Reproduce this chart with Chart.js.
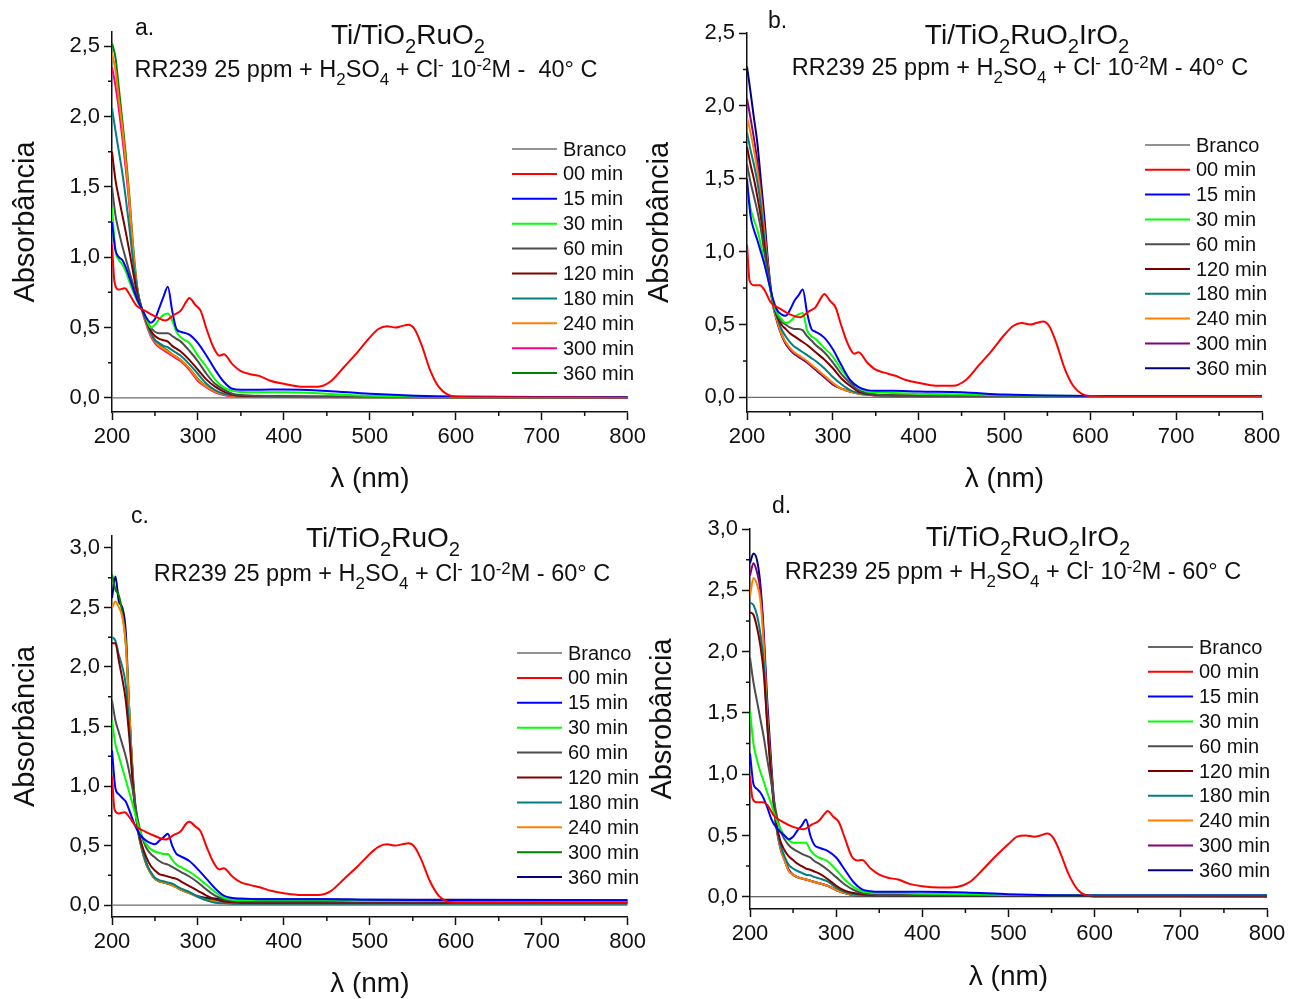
<!DOCTYPE html>
<html>
<head>
<meta charset="utf-8">
<script src="https://cdn.jsdelivr.net/npm/chart.js@4.4.1/dist/chart.umd.min.js"></script>
<style>
  body { margin: 0; background: #fff; width: 1300px; height: 999px; position: relative; overflow: hidden;
         font-family: 'Liberation Sans', Arial, sans-serif; color: #111; }
  .panel { position: absolute; }
  .txt { position: absolute; white-space: nowrap; line-height: 1; transform: translate(-50%, -50%); }
  .tag { position: absolute; font-size: 23px; line-height: 1; transform: translateY(-50%); }
  .head { font-size: 28px; }
  .cond { font-size: 23.5px; }
  sub, sup { line-height: 0; font-size: 0.72em; }
  sub { vertical-align: -0.45em; }
  sup { vertical-align: 0.45em; }
</style>
</head>
<body>

<div class="panel" style="left:0;top:0;width:650px;height:500px"><canvas id="chartA"></canvas></div>
<div class="panel" style="left:634px;top:0;width:666px;height:500px"><canvas id="chartB"></canvas></div>
<div class="panel" style="left:0;top:500px;width:650px;height:499px"><canvas id="chartC"></canvas></div>
<div class="panel" style="left:637px;top:500px;width:663px;height:499px"><canvas id="chartD"></canvas></div>

<div class="tag" style="left:135px;top:27px">a.</div>
<div class="txt head" style="left:408px;top:35px">Ti/TiO<sub>2</sub>RuO<sub>2</sub></div>
<div class="txt cond" style="left:366px;top:70px">RR239 25 ppm + H<sub>2</sub>SO<sub>4</sub> + Cl<sup>-</sup> 10<sup>-2</sup>M -&nbsp; 40° C</div>

<div class="tag" style="left:768px;top:20px">b.</div>
<div class="txt head" style="left:1027px;top:35px">Ti/TiO<sub>2</sub>RuO<sub>2</sub>IrO<sub>2</sub></div>
<div class="txt cond" style="left:1020px;top:68px">RR239 25 ppm + H<sub>2</sub>SO<sub>4</sub> + Cl<sup>-</sup> 10<sup>-2</sup>M - 40° C</div>

<div class="tag" style="left:131px;top:515px">c.</div>
<div class="txt head" style="left:383px;top:538px">Ti/TiO<sub>2</sub>RuO<sub>2</sub></div>
<div class="txt cond" style="left:382px;top:574px">RR239 25 ppm + H<sub>2</sub>SO<sub>4</sub> + Cl<sup>-</sup> 10<sup>-2</sup>M - 60° C</div>

<div class="tag" style="left:772px;top:505px">d.</div>
<div class="txt head" style="left:1028px;top:537px">Ti/TiO<sub>2</sub>RuO<sub>2</sub>IrO<sub>2</sub></div>
<div class="txt cond" style="left:1013px;top:572px">RR239 25 ppm + H<sub>2</sub>SO<sub>4</sub> + Cl<sup>-</sup> 10<sup>-2</sup>M - 60° C</div>

<script>
// wavelength grids (nm)
const wl = [200,204,208,212,216,220,225,230,235,240,245,250,255,260,265,270,275,280,290,300,310,320,330,340,350,370,400,450,500,600,800];
const wlRed = [200,203,208,215,220,228,238,250,262,272,280,287,290,297,303,310,318,325,330,340,350,360,372,385,400,420,440,455,470,485,500,510,520,530,537,545,552,560,570,580,590,600,650,800];
const wlBranco = [200, 800];
const branco = [0, 0];

const seriesLabels = ['Branco', '00 min', '15 min', '30 min', '60 min', '120 min', '180 min', '240 min', '300 min', '360 min'];
const xTicks = [200, 300, 400, 500, 600, 700, 800];
const yTicks25 = [0, 0.5, 1, 1.5, 2, 2.5];
const yTicks30 = [0, 0.5, 1, 1.5, 2, 2.5, 3];

// a. Ti/TiO2RuO2, 40 C
const a00 = [1.09,0.82,0.77,0.78,0.74,0.66,0.62,0.58,0.55,0.59,0.62,0.69,0.71,0.66,0.62,0.49,0.36,0.30,0.31,0.24,0.19,0.17,0.155,0.12,0.10,0.08,0.08,0.12,0.22,0.32,0.43,0.49,0.51,0.50,0.51,0.52,0.49,0.38,0.20,0.08,0.025,0.008,0.004,0.002];
const a15 = [1.25,1.05,1.00,0.98,0.93,0.86,0.77,0.69,0.63,0.57,0.535,0.56,0.64,0.72,0.79,0.62,0.49,0.47,0.45,0.39,0.30,0.20,0.115,0.065,0.058,0.058,0.06,0.05,0.03,0.01,0.005];
const a30 = [1.35,1.05,0.98,0.95,0.90,0.83,0.75,0.68,0.63,0.56,0.50,0.52,0.56,0.59,0.60,0.55,0.47,0.43,0.39,0.30,0.22,0.13,0.075,0.05,0.042,0.04,0.04,0.03,0.015,0.005,0.003];
const a60 = [1.50,1.30,1.18,1.08,0.99,0.90,0.80,0.70,0.63,0.56,0.50,0.47,0.46,0.46,0.46,0.44,0.42,0.40,0.335,0.26,0.17,0.10,0.06,0.03,0.02,0.015,0.012,0.01,0.008,0.005,0.003];
const a120 = [1.75,1.55,1.42,1.30,1.18,1.05,0.88,0.72,0.63,0.55,0.48,0.44,0.42,0.41,0.40,0.37,0.35,0.33,0.27,0.20,0.13,0.08,0.045,0.025,0.015,0.012,0.01,0.008,0.006,0.004,0.003];
const a180 = [2.06,1.90,1.75,1.60,1.42,1.22,0.95,0.75,0.63,0.54,0.46,0.41,0.39,0.37,0.36,0.34,0.32,0.30,0.24,0.17,0.10,0.055,0.03,0.02,0.015,0.012,0.01,0.008,0.006,0.004,0.003];
const a240 = [2.45,2.33,2.12,1.92,1.68,1.42,1.02,0.75,0.62,0.53,0.45,0.40,0.37,0.35,0.33,0.31,0.29,0.27,0.21,0.13,0.08,0.045,0.025,0.015,0.012,0.01,0.008,0.006,0.005,0.004,0.003];
const a300 = [2.35,2.22,2.05,1.85,1.63,1.38,1.00,0.75,0.62,0.52,0.44,0.39,0.36,0.34,0.32,0.30,0.28,0.26,0.20,0.12,0.075,0.04,0.02,0.012,0.01,0.008,0.006,0.005,0.004,0.003,0.002];
const a360 = [2.52,2.42,2.20,1.97,1.73,1.45,1.05,0.76,0.63,0.54,0.46,0.41,0.38,0.355,0.335,0.31,0.29,0.27,0.21,0.135,0.08,0.045,0.025,0.015,0.012,0.01,0.008,0.006,0.005,0.004,0.003];

// b. Ti/TiO2RuO2IrO2, 40 C
const b00 = [1.05,0.80,0.77,0.77,0.74,0.65,0.61,0.57,0.55,0.59,0.62,0.69,0.71,0.66,0.62,0.49,0.36,0.30,0.31,0.24,0.19,0.17,0.15,0.12,0.10,0.08,0.08,0.12,0.22,0.32,0.43,0.49,0.51,0.50,0.51,0.52,0.49,0.38,0.20,0.08,0.025,0.01,0.005,0.003];
const b15 = [1.50,1.25,1.15,1.08,1.00,0.92,0.80,0.68,0.60,0.57,0.56,0.60,0.66,0.70,0.74,0.58,0.47,0.45,0.41,0.33,0.22,0.12,0.07,0.05,0.045,0.045,0.04,0.035,0.02,0.01,0.008];
const b30 = [1.45,1.30,1.22,1.15,1.05,0.93,0.80,0.66,0.58,0.54,0.51,0.52,0.55,0.57,0.58,0.46,0.42,0.40,0.34,0.28,0.19,0.12,0.07,0.04,0.035,0.03,0.025,0.02,0.015,0.01,0.008];
const b60 = [1.60,1.48,1.38,1.28,1.16,1.00,0.82,0.66,0.57,0.52,0.50,0.48,0.47,0.47,0.46,0.42,0.39,0.36,0.31,0.24,0.16,0.10,0.05,0.03,0.02,0.015,0.012,0.01,0.008,0.006,0.005];
const b120 = [1.72,1.60,1.50,1.38,1.24,1.05,0.84,0.66,0.56,0.50,0.47,0.44,0.42,0.40,0.38,0.36,0.335,0.31,0.26,0.20,0.13,0.08,0.04,0.025,0.018,0.014,0.012,0.01,0.008,0.006,0.005];
const b180 = [1.82,1.70,1.60,1.48,1.32,1.10,0.85,0.65,0.55,0.47,0.42,0.38,0.35,0.33,0.31,0.29,0.27,0.25,0.20,0.14,0.09,0.05,0.03,0.02,0.015,0.012,0.01,0.008,0.006,0.005,0.004];
const b240 = [1.92,1.82,1.70,1.56,1.38,1.15,0.86,0.64,0.53,0.44,0.38,0.34,0.31,0.29,0.27,0.25,0.225,0.20,0.15,0.10,0.06,0.04,0.025,0.018,0.014,0.012,0.01,0.008,0.006,0.005,0.004];
const b300 = [2.05,1.92,1.78,1.62,1.43,1.18,0.87,0.64,0.52,0.43,0.37,0.33,0.30,0.28,0.26,0.24,0.215,0.19,0.14,0.09,0.06,0.04,0.025,0.018,0.014,0.012,0.01,0.008,0.006,0.005,0.004];
const b360 = [2.27,2.10,1.92,1.75,1.50,1.25,0.90,0.65,0.53,0.44,0.37,0.33,0.30,0.28,0.26,0.24,0.215,0.19,0.14,0.09,0.06,0.04,0.03,0.02,0.015,0.012,0.01,0.01,0.008,0.006,0.005];

// c. Ti/TiO2RuO2, 60 C
const c00 = [1.08,0.80,0.77,0.78,0.74,0.66,0.62,0.58,0.55,0.59,0.62,0.69,0.70,0.66,0.62,0.49,0.36,0.30,0.31,0.24,0.19,0.17,0.15,0.12,0.10,0.085,0.085,0.12,0.22,0.32,0.43,0.49,0.51,0.50,0.51,0.52,0.49,0.38,0.20,0.08,0.03,0.02,0.02,0.02];
const c15 = [1.30,0.98,0.93,0.90,0.87,0.80,0.70,0.62,0.57,0.54,0.52,0.51,0.54,0.57,0.60,0.50,0.43,0.41,0.37,0.30,0.22,0.14,0.08,0.06,0.055,0.05,0.05,0.05,0.045,0.04,0.04];
const c30 = [1.55,1.35,1.25,1.15,1.05,0.95,0.82,0.68,0.58,0.51,0.47,0.45,0.44,0.43,0.43,0.38,0.34,0.32,0.28,0.23,0.17,0.11,0.06,0.045,0.04,0.04,0.04,0.04,0.035,0.035,0.03];
const c60 = [1.72,1.55,1.45,1.35,1.25,1.12,0.93,0.72,0.57,0.48,0.43,0.40,0.37,0.35,0.34,0.32,0.30,0.28,0.24,0.19,0.13,0.08,0.05,0.035,0.03,0.03,0.03,0.03,0.03,0.03,0.03];
const c120 = [2.20,2.20,2.05,1.90,1.72,1.42,0.95,0.65,0.50,0.40,0.33,0.29,0.26,0.25,0.24,0.23,0.22,0.20,0.16,0.12,0.08,0.05,0.03,0.025,0.02,0.02,0.02,0.02,0.02,0.02,0.02];
const c180 = [2.25,2.22,2.10,2.00,1.85,1.50,0.95,0.63,0.47,0.35,0.28,0.23,0.21,0.20,0.19,0.18,0.16,0.14,0.11,0.07,0.04,0.02,0.015,0.01,0.01,0.01,0.01,0.01,0.01,0.01,0.01];
const c240 = [2.50,2.55,2.50,2.42,2.20,1.65,0.98,0.64,0.46,0.34,0.27,0.22,0.20,0.19,0.18,0.165,0.15,0.13,0.10,0.07,0.04,0.03,0.025,0.025,0.025,0.025,0.025,0.025,0.025,0.025,0.025];
const c300 = [2.78,2.65,2.60,2.45,2.20,1.65,0.98,0.64,0.46,0.34,0.27,0.22,0.20,0.19,0.18,0.165,0.15,0.13,0.10,0.07,0.05,0.04,0.035,0.03,0.03,0.03,0.03,0.03,0.03,0.03,0.03];
const c360 = [2.58,2.76,2.55,2.50,2.30,1.65,1.02,0.66,0.47,0.35,0.27,0.22,0.20,0.19,0.18,0.17,0.15,0.13,0.10,0.075,0.06,0.055,0.05,0.05,0.05,0.05,0.05,0.05,0.045,0.045,0.04];

// d. Ti/TiO2RuO2IrO2, 60 C
const d00 = [0.98,0.80,0.77,0.77,0.75,0.66,0.61,0.57,0.55,0.59,0.62,0.68,0.70,0.65,0.61,0.48,0.33,0.295,0.30,0.23,0.18,0.155,0.14,0.105,0.085,0.075,0.08,0.12,0.22,0.33,0.43,0.49,0.50,0.49,0.50,0.515,0.48,0.36,0.18,0.06,0.012,0.005,0.004,0.003];
const d15 = [1.17,0.92,0.88,0.85,0.80,0.73,0.63,0.57,0.53,0.50,0.47,0.49,0.54,0.58,0.63,0.50,0.42,0.40,0.375,0.32,0.22,0.12,0.06,0.045,0.04,0.04,0.04,0.035,0.02,0.01,0.01];
const d30 = [1.52,1.25,1.12,1.02,0.94,0.85,0.75,0.64,0.56,0.50,0.46,0.44,0.44,0.44,0.44,0.38,0.34,0.32,0.29,0.22,0.14,0.08,0.045,0.035,0.03,0.03,0.025,0.02,0.015,0.01,0.01];
const d60 = [1.95,1.75,1.60,1.45,1.30,1.12,0.92,0.70,0.55,0.47,0.42,0.39,0.37,0.35,0.335,0.32,0.29,0.27,0.22,0.16,0.10,0.057,0.03,0.02,0.015,0.012,0.01,0.01,0.008,0.006,0.005];
const d120 = [2.32,2.30,2.20,2.05,1.82,1.40,0.95,0.62,0.46,0.38,0.33,0.30,0.27,0.25,0.23,0.22,0.205,0.19,0.145,0.09,0.05,0.03,0.02,0.015,0.012,0.01,0.01,0.008,0.006,0.005,0.004];
const d180 = [2.40,2.38,2.30,2.15,1.90,1.42,0.95,0.60,0.43,0.33,0.26,0.23,0.21,0.195,0.18,0.175,0.16,0.15,0.125,0.075,0.04,0.02,0.015,0.012,0.01,0.01,0.01,0.008,0.006,0.005,0.004];
const d240 = [2.45,2.60,2.55,2.42,2.05,1.48,0.98,0.60,0.41,0.30,0.21,0.18,0.16,0.15,0.14,0.13,0.12,0.11,0.09,0.055,0.03,0.015,0.012,0.01,0.01,0.01,0.01,0.01,0.008,0.006,0.005];
const d300 = [2.62,2.72,2.65,2.50,2.10,1.50,1.00,0.60,0.40,0.30,0.21,0.18,0.16,0.15,0.14,0.13,0.12,0.11,0.09,0.055,0.03,0.015,0.012,0.01,0.01,0.01,0.01,0.01,0.008,0.006,0.005];
const d360 = [2.72,2.80,2.75,2.55,2.15,1.60,1.05,0.62,0.42,0.31,0.22,0.18,0.16,0.15,0.14,0.13,0.12,0.11,0.09,0.055,0.03,0.015,0.012,0.01,0.015,0.015,0.015,0.012,0.012,0.01,0.01];

const baseColors = ['#6e6e6e', '#ff0000', '#0000ff', '#00ff00', '#4d4d4d', '#800000', '#008080', '#ff8000'];

Chart.defaults.font.family = "'Liberation Sans', Arial, sans-serif";
Chart.defaults.color = '#111';

// short minor ticks between the labelled ones
const minorTicks = {
  id: 'minorTicks',
  afterDraw(chart) {
    const { ctx, chartArea: area, scales: { x, y } } = chart;
    ctx.save();
    ctx.strokeStyle = '#111';
    ctx.lineWidth = 1.5;
    ctx.beginPath();
    for (let v = 250; v < 800; v += 100) {
      const px = x.getPixelForValue(v);
      ctx.moveTo(px, area.bottom);
      ctx.lineTo(px, area.bottom + 4);
    }
    for (let v = 0.25; v < y.max; v += 0.5) {
      const py = y.getPixelForValue(v);
      ctx.moveTo(area.left - 4, py);
      ctx.lineTo(area.left, py);
    }
    ctx.stroke();
    ctx.restore();
  }
};

// legend drawn inside the plot, one row per dataset
const insetLegend = {
  id: 'insetLegend',
  afterDraw(chart, args, opts) {
    const ctx = chart.ctx;
    ctx.save();
    ctx.font = "20px 'Liberation Sans', Arial, sans-serif";
    ctx.textBaseline = 'middle';
    ctx.fillStyle = '#111';
    chart.data.datasets.forEach((ds, i) => {
      const yy = opts.top + i * opts.rowH;
      ctx.strokeStyle = ds.borderColor;
      ctx.lineWidth = i === 0 ? 1.5 : 2;
      ctx.beginPath();
      ctx.moveTo(opts.left, yy);
      ctx.lineTo(opts.left + 45, yy);
      ctx.stroke();
      ctx.fillText(ds.label, opts.left + 51, yy + 1);
    });
    ctx.restore();
  }
};

function buildPanel(canvasId, p) {
  const datasets = p.series.map((s, i) => ({
    label: seriesLabels[i],
    data: s.x.map((x, k) => ({ x, y: s.y[k] })),
    borderColor: p.colors[i],
    borderWidth: i === 0 ? 1.2 : 2,
    pointRadius: 0,
    fill: false,
    cubicInterpolationMode: 'monotone',
  }));

  return new Chart(document.getElementById(canvasId), {
    type: 'line',
    data: { datasets },
    plugins: [minorTicks, insetLegend],
    options: {
      responsive: true,
      maintainAspectRatio: false,
      animation: false,
      layout: { padding: p.padding },
      plugins: {
        legend: { display: false },
        tooltip: { enabled: false },
        insetLegend: p.legend,
      },
      scales: {
        x: {
          type: 'linear',
          min: 200,
          max: 800,
          afterBuildTicks: ax => { ax.ticks = xTicks.map(v => ({ value: v })); },
          afterFit: ax => { ax.height = p.xAxisH; },
          ticks: { font: { size: 22 }, color: '#111', padding: 4, maxRotation: 0, autoSkip: false },
          grid: { drawOnChartArea: false, tickLength: 8, tickWidth: 1.5, tickColor: '#111' },
          border: { color: '#111', width: 1.5 },
          title: { display: true, text: 'λ (nm)', color: '#111', font: { size: 28, lineHeight: 1 }, padding: { top: 0, bottom: 0 } },
        },
        y: {
          type: 'linear',
          min: -0.1,
          max: p.yMax,
          afterBuildTicks: ax => { ax.ticks = p.yTicks.map(v => ({ value: v })); },
          afterFit: ax => { ax.width = p.yAxisW; },
          ticks: {
            font: { size: 22 }, color: '#111', padding: 4, autoSkip: false,
            callback: v => v.toFixed(1).replace('.', ','),
          },
          grid: { drawOnChartArea: false, tickLength: 8, tickWidth: 1.5, tickColor: '#111' },
          border: { color: '#111', width: 1.5 },
          title: { display: true, text: p.yTitle, color: '#111', font: { size: 29, lineHeight: 1 }, padding: { top: 11, bottom: 0 } },
        },
      },
    },
  });
}

function seriesOf(red, rest) {
  return [{ x: wlBranco, y: branco }, { x: wlRed, y: red }].concat(rest.map(y => ({ x: wl, y })));
}

buildPanel('chartA', {
  series: seriesOf(a00, [a15, a30, a60, a120, a180, a240, a300, a360]),
  colors: baseColors.concat(['#ff0080', '#008000']),
  yMax: 2.6, yTicks: yTicks25, yTitle: 'Absorbância',
  yAxisW: 112, xAxisH: 81,
  padding: { left: 0, right: 22, top: 32, bottom: 7 },
  legend: { left: 512, top: 149, rowH: 24.9 },
});

buildPanel('chartB', {
  series: seriesOf(b00, [b15, b30, b60, b120, b180, b240, b300, b360]),
  colors: baseColors.concat(['#800080', '#000080']),
  yMax: 2.5, yTicks: yTicks25, yTitle: 'Absorbância',
  yAxisW: 113, xAxisH: 81,
  padding: { left: 0, right: 38, top: 33, bottom: 7 },
  legend: { left: 511, top: 145, rowH: 24.8 },
});

buildPanel('chartC', {
  series: seriesOf(c00, [c15, c30, c60, c120, c180, c240, c300, c360]),
  colors: baseColors.concat(['#008000', '#000080']),
  yMax: 3.1, yTicks: yTicks30, yTitle: 'Absorbância',
  yAxisW: 112, xAxisH: 81,
  padding: { left: 0, right: 22, top: 36, bottom: 1 },
  legend: { left: 517, top: 153, rowH: 24.9 },
});

buildPanel('chartD', {
  series: seriesOf(d00, [d15, d30, d60, d120, d180, d240, d300, d360]),
  colors: ['#333333'].concat(baseColors.slice(1), ['#800080', '#000080']),
  yMax: 3.0, yTicks: yTicks30, yTitle: 'Absrobância',
  yAxisW: 113, xAxisH: 82,
  padding: { left: 0, right: 33, top: 29, bottom: 8 },
  legend: { left: 511, top: 147, rowH: 24.8 },
});
</script>
</body>
</html>
